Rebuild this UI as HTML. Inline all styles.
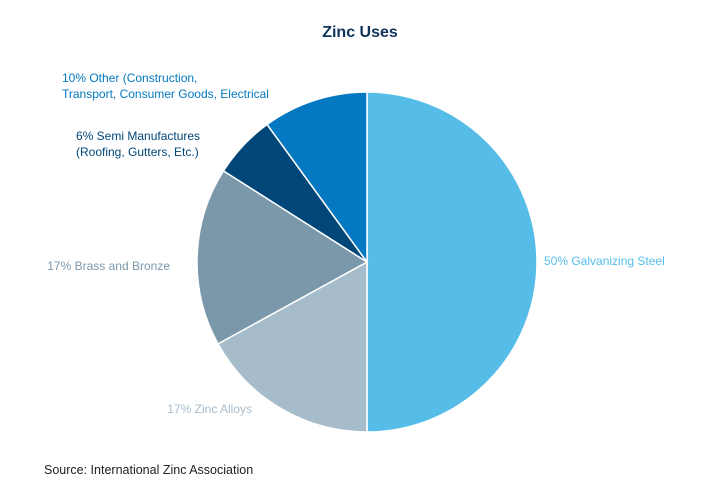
<!DOCTYPE html>
<html><head><meta charset="utf-8"><style>
body{margin:0;background:#fff;font-family:"Liberation Sans",sans-serif;}
svg{display:block}
</style></head><body>
<svg id="chart" width="720" height="500">
<text x="360" y="37" text-anchor="middle" font-size="16" font-weight="bold" fill="#0f3459">Zinc Uses</text>
<g id="slices"></g>
<g id="labels" font-size="12"></g>
<text x="44" y="474" font-size="12.5" fill="#222">Source: International Zinc Association</text>
</svg>
<script>
const categories=["Galvanizing Steel","Zinc Alloys","Brass and Bronze","Semi Manufactures","Other"];
const values=[50,17,17,6,10];
const colors=["#56bde9","#a7bccb","#7b98ab","#004678","#0479c1"];
const labelLines=[["50% Galvanizing Steel"],["17% Zinc Alloys"],["17% Brass and Bronze"],["6% Semi Manufactures","(Roofing, Gutters, Etc.)"],["10% Other (Construction,","Transport, Consumer Goods, Electrical"]];
const labelPos=[[544,265,"start"],[252,413,"end"],[170,270,"end"],[76,140,"start"],[62,82,"start"]];
const labelColors=["#56bde9","#a7bccb","#7b98ab","#004678","#0479c1"];
const cx=367,cy=262,r=170;
const ns="http://www.w3.org/2000/svg";
const total=values.reduce((a,b)=>a+b,0);
let a0=0;
const gs=document.getElementById('slices'),gl=document.getElementById('labels');
function pt(a){return [cx+r*Math.sin(a),cy-r*Math.cos(a)];}
values.forEach((v,i)=>{
  const a1=a0+v/total*2*Math.PI;
  const p0=pt(a0),p1=pt(a1);
  const path=document.createElementNS(ns,'path');
  path.setAttribute('d',`M${cx},${cy}L${p0[0]},${p0[1]}A${r},${r} 0 ${a1-a0>Math.PI?1:0} 1 ${p1[0]},${p1[1]}Z`);
  path.setAttribute('fill',colors[i]);
  path.setAttribute('stroke','#fff');
  path.setAttribute('stroke-width','1.5');
  
  
  gs.appendChild(path);
  a0=a1;
  const t=document.createElementNS(ns,'text');
  t.setAttribute('x',labelPos[i][0]);t.setAttribute('y',labelPos[i][1]);
  t.setAttribute('text-anchor',labelPos[i][2]);
  t.setAttribute('fill',labelColors[i]);
  
  
  labelLines[i].forEach((l,j)=>{const s=document.createElementNS(ns,'tspan');s.setAttribute('x',labelPos[i][0]);s.setAttribute('dy',j?16:0);s.textContent=l;t.appendChild(s);});
  gl.appendChild(t);
});
</script>
</body></html>
